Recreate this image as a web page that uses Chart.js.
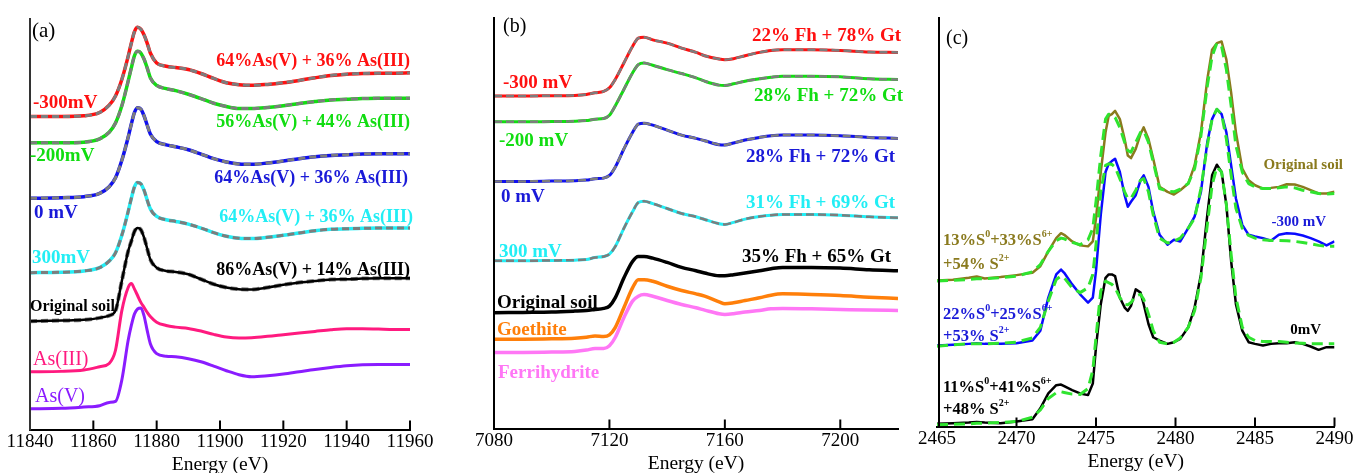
<!DOCTYPE html>
<html><head><meta charset="utf-8">
<script src="https://cdn.jsdelivr.net/npm/chart.js@4.4.1/dist/chart.umd.min.js"></script>
<style>
html,body{margin:0;padding:0;background:#fff;overflow:hidden;}
#wrap{position:relative;width:1357px;height:473px;overflow:hidden;background:#fff;}
canvas{position:absolute;top:0;}
</style></head><body>
<div id="wrap">
<canvas id="ca" width="460" height="480" style="left:0px"></canvas>
<canvas id="cb" width="460" height="480" style="left:460px"></canvas>
<canvas id="cc" width="457" height="480" style="left:900px"></canvas>
</div>
<script>
// ---------- Panel (a): As K-edge ----------
const energyA = [11840,11850,11857,11862,11865,11867,11869,11871,11872,11873,11874,11875,11876,11877,11878,11880,11883,11886,11890,11894,11898,11902,11906,11910,11915,11920,11925,11930,11935,11940,11945,11950,11955,11960];
const aM300 = [948,948,950,960,982,1010,1060,1130,1170,1205,1218,1212,1195,1170,1140,1110,1100,1096,1090,1078,1063,1050,1044,1042,1045,1050,1057,1065,1072,1076,1078,1079,1079,1080];
const aM200 = [868,868,870,880,900,928,980,1055,1095,1132,1145,1140,1122,1095,1065,1042,1032,1026,1015,1002,988,978,972,972,975,980,987,993,998,1000,1002,1003,1003,1003];
const a0 = [700,702,705,715,735,762,815,885,925,960,974,970,950,922,895,872,862,856,847,834,820,810,804,803,807,813,820,826,830,832,834,835,835,835];
const aP300 = [475,476,480,490,510,535,588,660,700,735,748,744,725,695,668,645,635,630,622,610,596,585,579,578,582,588,595,602,606,608,609,610,610,610];
const aSoil = [328,330,332,338,345,360,450,540,570,600,610,605,582,548,515,490,480,477,470,455,440,430,425,424,430,438,445,450,454,455,457,458,458,458];
const aAs3 = [175,176,180,190,200,240,360,430,442,425,405,385,370,355,342,325,315,310,306,298,288,280,277,278,282,287,292,297,302,305,305,304,303,303];
const aAs5 = [63,64,68,72,82,85,150,270,315,350,365,368,345,300,260,230,222,220,214,205,192,178,166,160,163,168,175,182,188,193,196,197,197,197];
// linear-combination fits (read as coincident with the data)
const aFitM300 = aM300, aFitM200 = aM200, aFit0 = a0, aFitP300 = aP300, aFitSoil = aSoil;
const ticksA = {min:11840, max:11960, step:20};

// ---------- Panel (b): Fe K-edge ----------
const energyB = [7080,7090,7100,7108,7112,7115,7118,7120,7122,7125,7128,7130,7132,7135,7140,7145,7150,7153,7158,7160,7163,7167,7172,7176,7180,7190,7200,7210,7220];
const bM300 = [1005,1005,1006,1007,1010,1015,1019,1030,1055,1105,1155,1180,1183,1175,1165,1150,1137,1127,1117,1115,1118,1127,1137,1143,1145,1145,1143,1138,1137];
const bM200 = [927,927,928,929,931,935,937,947,975,1025,1075,1100,1105,1098,1085,1073,1060,1050,1038,1037,1042,1050,1057,1062,1065,1065,1063,1057,1055];
const b0 = [747,747,748,749,751,755,757,765,790,845,895,920,923,917,902,887,877,870,858,857,863,872,880,885,887,887,885,880,877];
const bP300 = [507,507,508,509,511,517,520,527,550,605,655,683,687,680,665,650,640,632,619,617,623,633,641,645,647,647,645,640,637];
const bSoil = [350,351,352,355,357,360,363,370,395,455,505,520,520,515,502,487,477,470,462,462,465,470,477,483,487,487,485,480,477];
const bGoethite = [270,270,271,273,276,280,278,283,305,365,425,450,450,445,430,417,407,400,383,377,380,387,395,403,407,405,402,397,393];
const bFerrihydrite = [230,230,231,233,237,242,242,250,275,335,385,400,405,400,387,375,365,358,347,345,347,352,357,362,363,362,360,358,357];
const bFitM300 = bM300, bFitM200 = bM200, bFit0 = b0, bFitP300 = bP300;
const ticksB = {min:7080, max:7220, step:40};

// ---------- Panel (c): S K-edge ----------
const energyC = [2465,2466,2467,2467.5,2468,2469,2470,2471,2471.5,2472,2472.5,2472.8,2473,2473.5,2474,2474.5,2474.8,2475,2475.3,2475.6,2475.8,2476,2476.2,2476.5,2476.8,2477,2477.2,2477.5,2477.8,2478,2478.3,2478.6,2479,2479.5,2479.9,2480.3,2480.8,2481.2,2481.6,2482,2482.3,2482.6,2482.9,2483.2,2483.5,2483.8,2484.2,2484.6,2485,2485.5,2486,2486.5,2487,2487.5,2488,2488.5,2489,2489.5,2490];
const cSoil = [442,444,450,454,448,452,458,465,485,530,570,585,580,560,548,545,560,630,770,890,940,945,955,930,870,820,812,840,885,905,870,810,725,710,702,715,735,790,890,1050,1140,1160,1165,1110,1010,890,780,745,730,720,722,725,733,732,725,715,705,705,710];
const cSoilFit = [440,442,445,447,447,450,455,468,490,530,562,570,568,557,550,565,600,680,820,930,945,942,935,905,860,835,830,860,890,895,860,800,720,712,710,718,735,780,880,1030,1120,1160,1150,1080,970,850,770,735,725,720,720,722,725,722,715,710,705,703,705];
const cM300 = [245,247,250,252,250,250,252,260,290,390,460,475,465,430,400,375,390,470,640,770,795,803,810,770,700,665,680,700,745,760,725,650,580,550,565,560,600,635,710,860,930,960,945,890,790,690,610,580,575,570,562,580,585,583,578,570,560,548,560];
const cM300Fit = [243,247,250,250,250,252,255,268,300,380,445,455,450,420,405,420,460,550,710,790,795,793,785,750,710,690,690,715,745,750,710,640,570,555,560,570,600,630,720,850,930,960,945,870,760,660,600,578,570,565,563,563,562,560,557,553,548,545,545];
const c0 = [8,10,12,14,12,10,15,22,55,100,125,127,122,110,100,95,130,240,370,450,460,460,455,390,360,350,365,415,405,370,310,270,260,250,255,265,300,360,460,640,760,792,770,670,500,370,290,255,250,245,250,252,252,255,250,242,232,240,240];
const c0Fit = [5,7,8,10,10,12,15,28,50,85,102,105,103,98,97,115,170,270,410,440,435,430,420,390,370,368,375,395,400,385,340,290,255,250,255,268,300,350,450,610,730,785,770,670,520,390,300,270,260,257,257,257,255,253,252,250,250,250,250];
const ticksC = {min:2465, max:2490, step:5};

// ---------- helpers ----------
const SERIF = "'Liberation Serif','Times New Roman',serif";
function ds(xs, ys, color, width, dash, order, mode){
  return {data: xs.map((x,i)=>({x:x, y:ys[i]})), borderColor: color, borderWidth: width,
    borderDash: dash || [], pointRadius: 0, fill: false, order: order,
    tension: mode === 'lin' ? 0 : 0.4, cubicInterpolationMode: mode === 'lin' ? 'default' : 'monotone',
    borderCapStyle: 'butt', borderJoinStyle: 'round'};
}
function drawRich(ctx, l){
  const base = (l.weight||'bold') + ' ' + l.size + 'px ' + SERIF;
  const sup = (l.weight||'bold') + ' ' + Math.round(l.size*0.62) + 'px ' + SERIF;
  let total = 0;
  l.parts.forEach(p => { ctx.font = p[1] ? sup : base; total += ctx.measureText(p[0]).width; });
  let x = l.align === 'right' ? l.x - total : l.x;
  ctx.fillStyle = l.color; ctx.textBaseline = 'middle'; ctx.textAlign = 'left';
  l.parts.forEach(p => {
    ctx.font = p[1] ? sup : base;
    ctx.fillText(p[0], x, p[1] ? l.y - l.size*0.38 : l.y);
    x += ctx.measureText(p[0]).width;
  });
}
const deco = {
  id: 'deco',
  afterDraw(chart, args, opts){
    const {ctx, chartArea: ca} = chart; const x = chart.scales.x;
    ctx.save();
    ctx.strokeStyle = opts.axisColor; ctx.lineWidth = 2;
    ctx.beginPath(); ctx.moveTo(ca.left + (opts.axisShift||0), ca.top); ctx.lineTo(ca.left + (opts.axisShift||0), ca.bottom + 1); ctx.stroke();
    ctx.strokeStyle = '#000'; ctx.lineWidth = 2;
    x.ticks.forEach(t => {
      const px = x.getPixelForValue(t.value);
      if (Math.abs(px - ca.left) < 2) return;
      ctx.beginPath(); ctx.moveTo(px, ca.bottom); ctx.lineTo(px, ca.bottom - 9); ctx.stroke();
    });
    opts.labels.forEach(l => drawRich(ctx, l));
    ctx.restore();
  }
};
function makeChart(id, datasets, tk, ymax, pad, labels, axisColor, axisShift){
  return new Chart(document.getElementById(id), {
    type: 'line',
    data: {datasets: datasets},
    options: {
      responsive: false, animation: false, events: [],
      layout: {padding: pad},
      plugins: {legend: {display: false}, tooltip: {enabled: false}, deco: {labels: labels, axisColor: axisColor, axisShift: axisShift}},
      scales: {
        x: {type: 'linear', min: tk.min, max: tk.max,
            grid: {display: false, drawTicks: false},
            border: {display: true, color: '#000', width: 2},
            ticks: {stepSize: tk.step, includeBounds: false, autoSkip: false, maxRotation: 0, padding: 3.5,
                    color: '#000', font: {family: SERIF, size: 19, lineHeight: 1.0}, callback: v => String(v)},
            title: {display: true, text: 'Energy (eV)', color: '#000', font: {family: SERIF, size: 19.5, lineHeight: 1.0}, padding: {top: 0, bottom: 0}}},
        y: {display: false, min: 0, max: ymax}
      }
    },
    plugins: [deco]
  });
}
const GRAY = '#7d7d7d', FIT = [7,4];
const RED = '#ff1010', GREEN = '#11dd11', BLUE = '#1010f0', CYAN = '#22eef5';
const PINK = '#ff1a7f', PURPLE = '#8a1cff', ORANGE = '#ff7f0a', FERRI = '#ff77f5', OLIVE = '#8a7a1e', DGREEN = '#2fe42f';

// Panel (a)
makeChart('ca', [
  ds(energyA, aFitM300, GRAY, 3, FIT, 0), ds(energyA, aM300, RED, 3.5, null, 1),
  ds(energyA, aFitM200, GRAY, 3, FIT, 0), ds(energyA, aM200, GREEN, 3.5, null, 1),
  ds(energyA, aFit0, GRAY, 3, FIT, 0), ds(energyA, a0, BLUE, 3.5, null, 1),
  ds(energyA, aFitP300, GRAY, 3, FIT, 0), ds(energyA, aP300, CYAN, 3.5, null, 1),
  ds(energyA, aFitSoil, GRAY, 4, FIT, 1), ds(energyA, aSoil, '#000', 2.5, null, 0),
  ds(energyA, aAs3, PINK, 3, null, 1), ds(energyA, aAs5, PURPLE, 3, null, 1)
], ticksA, 1246, {left: 30, right: 50, top: 18, bottom: 5}, [
  {parts: [['(a)']], x: 32, y: 31, size: 21, weight: 'normal', color: '#000'},
  {parts: [['64%As(V) + 36% As(III)']], x: 410, y: 61, size: 18, color: RED, align: 'right'},
  {parts: [['-300mV']], x: 33, y: 103, size: 19, color: RED},
  {parts: [['56%As(V) + 44% As(III)']], x: 410, y: 122, size: 18, color: GREEN, align: 'right'},
  {parts: [['-200mV']], x: 30, y: 156, size: 19, color: GREEN},
  {parts: [['64%As(V) + 36% As(III)']], x: 408, y: 178, size: 18, color: '#1a1ad8', align: 'right'},
  {parts: [['0 mV']], x: 34, y: 213, size: 19, color: '#1a1ad8'},
  {parts: [['64%As(V) + 36% As(III)']], x: 413, y: 217, size: 18, color: CYAN, align: 'right'},
  {parts: [['300mV']], x: 32, y: 258, size: 19, color: CYAN},
  {parts: [['86%As(V) + 14% As(III)']], x: 410, y: 270, size: 18, color: '#000', align: 'right'},
  {parts: [['Original soil']], x: 30, y: 307, size: 16, color: '#000'},
  {parts: [['As(III)']], x: 33, y: 360, size: 20, weight: 'normal', color: PINK},
  {parts: [['As(V)']], x: 35, y: 397, size: 20, weight: 'normal', color: PURPLE}
], '#333', 0);

// Panel (b)
makeChart('cb', [
  ds(energyB, bFitM300, GRAY, 2.5, [8,4], 0), ds(energyB, bM300, RED, 3, null, 1),
  ds(energyB, bFitM200, GRAY, 2.5, [8,4], 0), ds(energyB, bM200, GREEN, 3, null, 1),
  ds(energyB, bFit0, GRAY, 2.5, [8,4], 0), ds(energyB, b0, BLUE, 3, null, 1),
  ds(energyB, bFitP300, GRAY, 2.5, [8,4], 0), ds(energyB, bP300, CYAN, 3, null, 1),
  ds(energyB, bSoil, '#000', 3.5, null, 1),
  ds(energyB, bGoethite, ORANGE, 3.5, null, 1),
  ds(energyB, bFerrihydrite, FERRI, 3.5, null, 1)
], ticksB, 1244, {left: 34, right: 22, top: 17, bottom: 6}, [
  {parts: [['(b)']], x: 43, y: 27, size: 20, weight: 'normal', color: '#000'},
  {parts: [['22% Fh + 78% Gt']], x: 441, y: 36, size: 19, color: RED, align: 'right'},
  {parts: [['-300 mV']], x: 43, y: 83, size: 19, color: RED},
  {parts: [['28% Fh + 72% Gt']], x: 443, y: 96, size: 19, color: GREEN, align: 'right'},
  {parts: [['-200 mV']], x: 39, y: 141, size: 19, color: GREEN},
  {parts: [['28% Fh + 72% Gt']], x: 435, y: 157, size: 19, color: '#1a1ad8', align: 'right'},
  {parts: [['0 mV']], x: 41, y: 197, size: 19, color: '#1a1ad8'},
  {parts: [['31% Fh + 69% Gt']], x: 435, y: 203, size: 19, color: CYAN, align: 'right'},
  {parts: [['300 mV']], x: 39, y: 252, size: 19, color: CYAN},
  {parts: [['35% Fh + 65% Gt']], x: 431, y: 257, size: 19, color: '#000', align: 'right'},
  {parts: [['Original soil']], x: 37, y: 303, size: 19, color: '#000'},
  {parts: [['Goethite']], x: 37, y: 330, size: 19, color: ORANGE},
  {parts: [['Ferrihydrite']], x: 38, y: 373, size: 19, color: FERRI}
], '#000', 0);

// Panel (c)
makeChart('cc', [
  ds(energyC, cSoilFit, DGREEN, 3, [11,6], 0, 'lin'), ds(energyC, cSoil, OLIVE, 2.5, null, 1, 'lin'),
  ds(energyC, cM300Fit, DGREEN, 3, [11,6], 0, 'lin'), ds(energyC, cM300, '#0a0aff', 2.5, null, 1, 'lin'),
  ds(energyC, c0Fit, DGREEN, 3, [11,6], 0, 'lin'), ds(energyC, c0, '#000', 2.5, null, 1, 'lin')
], ticksC, 1239, {left: 37, right: 18, top: 17, bottom: 8}, [
  {parts: [['(c)']], x: 46, y: 39, size: 20, weight: 'normal', color: '#000'},
  {parts: [['Original soil']], x: 443, y: 165, size: 15, color: OLIVE, align: 'right'},
  {parts: [['-300 mV']], x: 426, y: 222, size: 15, color: '#1a1ad8', align: 'right'},
  {parts: [['0mV']], x: 421, y: 330, size: 15, color: '#000', align: 'right'},
  {parts: [['13%S'],['0',1],['+33%S'],['6+',1]], x: 43, y: 241, size: 16.5, color: OLIVE},
  {parts: [['+54% S'],['2+',1]], x: 43, y: 265, size: 16.5, color: OLIVE},
  {parts: [['22%S'],['0',1],['+25%S'],['6+',1]], x: 43, y: 315, size: 16.5, color: '#1a1ad8'},
  {parts: [['+53% S'],['2+',1]], x: 43, y: 337, size: 16.5, color: '#1a1ad8'},
  {parts: [['11%S'],['0',1],['+41%S'],['6+',1]], x: 43, y: 388, size: 16.5, color: '#000'},
  {parts: [['+48% S'],['2+',1]], x: 43, y: 410, size: 16.5, color: '#000'}
], '#000', 2);
</script>
</body></html>
